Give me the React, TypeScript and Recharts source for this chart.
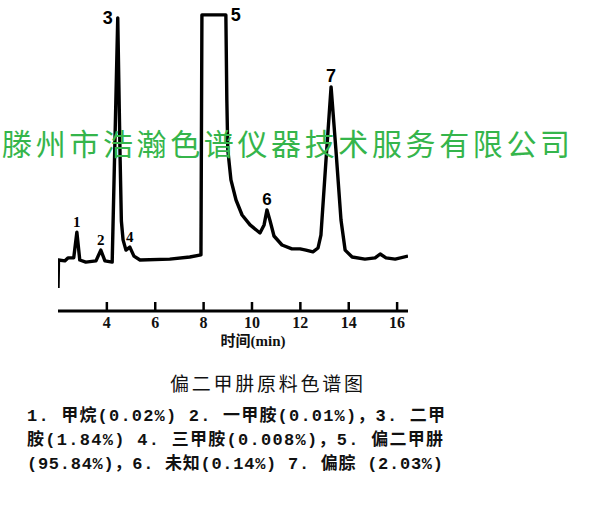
import { LineChart, Line, XAxis, YAxis, ReferenceDot, ReferenceLine } from "recharts";

// retention time (min) and detector signal (relative units)
const times = [
  1.98, 2.0, 2.26, 2.39, 2.63, 2.76, 2.88, 3.13, 3.55, 3.75, 3.92, 4.22, 4.45, 4.55, 4.6,
  4.67, 4.79, 4.95, 5.12, 5.37, 6.6, 7.43, 7.89, 7.93, 8.92, 8.96, 9.0, 9.13, 9.34, 9.59, 9.92,
  10.33, 10.5, 10.62, 10.74, 10.91, 11.24, 11.65, 11.99, 12.23, 12.52, 12.73, 12.85, 13.06, 13.27,
  13.47, 13.68, 13.85, 14.14, 14.67, 15.09, 15.3, 15.54, 15.92, 16.45
];
const signal = [
  7.7, 17, 16.7, 17.7, 17.7, 26.3, 17, 16.3, 16.7, 20.3, 16.7, 16.3, 97.7, 50, 30,
  23.7, 20.3, 21.3, 18.3, 17, 17.3, 18, 18.7, 98.7, 98.7, 70.3, 53.7, 43.7, 37, 32, 28.7,
  26, 28.7, 33.7, 30.3, 25, 22, 20.7, 20.7, 20.3, 19.7, 21, 25.3, 50.3, 74.7,
  53.7, 30.3, 20.3, 18, 17.3, 17.7, 19, 17.7, 17.3, 18.3
];
const timeTicks = [4, 6, 8, 10, 12, 14, 16];

const peakNames = ["1", "2", "3", "4", "5", "6", "7"];
const peakIndex = [5, 9, 12, 17, 24, 33, 44];

const watermark = "滕州市浩瀚色谱仪器技术服务有限公司";
const title = "偏二甲肼原料色谱图";
const caption = [
  "1. 甲烷(0.02%)  2. 一甲胺(0.01%)，3. 二甲",
  "胺(1.84%)   4. 三甲胺(0.008%)，5. 偏二甲肼",
  "(95.84%)，6. 未知(0.14%)  7. 偏腙 (2.03%)"
];

const data = times.map((t, i) => ({ t, v: signal[i] }));

const peakStyle: Record<string, { position: string; size: number; family: string }> = {
  "1": { position: "top", size: 15, family: "Liberation Serif" },
  "2": { position: "top", size: 15, family: "Liberation Serif" },
  "3": { position: "left", size: 18, family: "Liberation Sans" },
  "4": { position: "top", size: 15, family: "Liberation Serif" },
  "5": { position: "right", size: 18, family: "Liberation Sans" },
  "6": { position: "top", size: 17, family: "Liberation Sans" },
  "7": { position: "top", size: 18, family: "Liberation Sans" }
};

function TimeTick(props: any) {
  const { x, y, payload } = props;
  return (
    <text
      x={x}
      y={y + 17}
      textAnchor="middle"
      fontFamily="Liberation Serif"
      fontWeight="bold"
      fontSize={16}
      fill="#111"
    >
      {payload.value}
    </text>
  );
}

export default function App() {
  return (
    <div style={{ position: "absolute", left: 0, top: 0, width: 600, height: 515, background: "#fff" }}>
      <LineChart width={600} height={515} data={data} margin={{ top: 11, right: 192, bottom: 174, left: 58 }}>
        <XAxis
          dataKey="t"
          type="number"
          domain={[1.98, 16.45]}
          ticks={timeTicks}
          allowDataOverflow
          height={30}
          tickSize={0}
          tickMargin={0}
          tickLine={false}
          axisLine={{ stroke: "#000", strokeWidth: 3 }}
          tick={<TimeTick />}
        />
        <YAxis hide domain={[0, 100]} type="number" allowDataOverflow />
        {/* upward tick marks on the time axis */}
        {timeTicks.map((t) => (
          <ReferenceLine
            key={t}
            segment={[{ x: t, y: 0 }, { x: t, y: 3 }]}
            stroke="#000"
            strokeWidth={2.5}
            ifOverflow="visible"
          />
        ))}
        <Line
          type="linear"
          dataKey="v"
          stroke="#000"
          strokeWidth={3.4}
          strokeLinejoin="round"
          dot={false}
          isAnimationActive={false}
        />
        {peakIndex.map((idx, i) => {
          const name = peakNames[i];
          const st = peakStyle[name];
          return (
            <ReferenceDot
              key={name}
              x={times[idx]}
              y={signal[idx]}
              r={0}
              fill="none"
              stroke="none"
              ifOverflow="visible"
              label={{
                value: name,
                position: st.position,
                offset: 5,
                fill: "#000",
                fontSize: st.size,
                fontWeight: "bold",
                fontFamily: st.family
              }}
            />
          );
        })}
      </LineChart>
      <svg
        width={600}
        height={515}
        style={{ position: "absolute", left: 0, top: 0, pointerEvents: "none" }}
      >
        <text
          x={2}
          y={155}
          textLength={568}
          lengthAdjust="spacing"
          fontFamily="Noto Sans CJK SC"
          fontSize={30}
          fill="#35b54b"
        >
          {watermark}
        </text>
        <text x={253} y={346} textAnchor="middle" fontFamily="Liberation Serif, Noto Sans CJK SC" fontWeight="bold" fontSize={15} fill="#111">
          时间(min)
        </text>
        <text
          x={170}
          y={391}
          textLength={193}
          lengthAdjust="spacing"
          fontFamily="Noto Sans CJK SC"
          fontSize={19}
          fill="#111"
        >
          {title}
        </text>
        {caption.map((line, i) => (
          <text
            key={i}
            x={27}
            y={421 + i * 24}
            textLength={[418, 416, 416][i]}
            lengthAdjust="spacing"
            fontFamily="Liberation Mono, Noto Sans CJK SC"
            fontWeight="bold"
            fontSize={17}
            fill="#111"
          >
            {line}
          </text>
        ))}
      </svg>
    </div>
  );
}
